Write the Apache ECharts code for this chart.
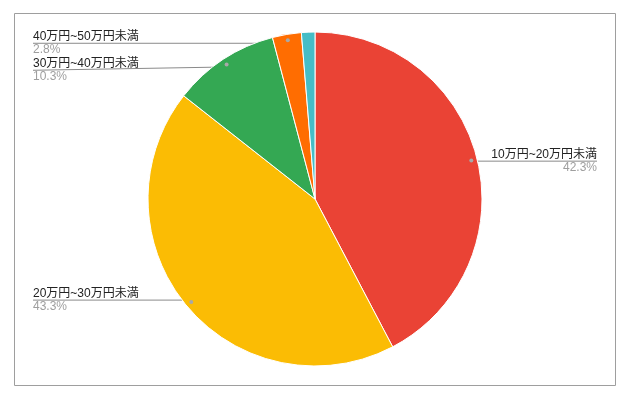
<!DOCTYPE html>
<html><head><meta charset="utf-8">
<script src="https://cdn.jsdelivr.net/npm/echarts/dist/echarts.min.js"></script>
<style>html,body{margin:0;padding:0;background:#fff}#c{width:634px;height:402px}</style>
</head><body><div id="c"></div>
<script>
var categories = ['10万円~20万円未満', '20万円~30万円未満', '30万円~40万円未満', '40万円~50万円未満', '50万円以上'];
var values = [42.3, 43.3, 10.3, 2.8, 1.3];
var showLabel = [true, true, true, true, false];
var colors = ['#EA4335', '#FBBC04', '#34A853', '#FF6D01', '#46BDC6'];

var FONT = "Arial, 'Liberation Sans', 'Noto Sans CJK JP', sans-serif";
var CENTER = [315, 199];
var R = 167;
var SHIFT = -2;
var clear = 'rgba(0,0,0,0)';

function baseData(extra) {
  return categories.map(function (c, i) {
    var d = { name: c, value: values[i] };
    if (extra) extra(d, i);
    return d;
  });
}

var chart = echarts.init(document.getElementById('c'));
chart.setOption({
  animation: false,
  graphic: [{
    type: 'rect', silent: true, z: -10,
    shape: { x: 14.5, y: 13.5, width: 601, height: 372 },
    style: { fill: null, stroke: '#9e9e9e', lineWidth: 1 }
  }],
  series: [
    {
      type: 'pie', silent: true, center: CENTER, radius: R,
      startAngle: 90, clockwise: true,
      label: { show: false }, labelLine: { show: false },
      itemStyle: { borderColor: '#fff', borderWidth: 1 },
      emphasis: { disabled: true },
      data: baseData(function (d, i) { d.itemStyle = { color: colors[i] }; })
    },
    {
      type: 'pie', silent: true, center: CENTER, radius: 158,
      startAngle: 90, clockwise: true,
      itemStyle: { color: clear, borderWidth: 0 },
      emphasis: { disabled: true },
      label: {
        show: true, position: 'outside', alignTo: 'edge', edgeDistance: 35,
        fontFamily: FONT,
        formatter: function (p) { return '{n|' + p.name + '}\n{v|' + p.value + '%}'; },
        rich: {
          n: { fontSize: 12, color: '#222222', lineHeight: 13, fontFamily: FONT },
          v: { fontSize: 12, color: '#9e9e9e', lineHeight: 13, fontFamily: FONT }
        }
      },
      labelLine: { show: true, length: 0, length2: 10, lineStyle: { color: '#8a8a8a', width: 1 } },
      labelLayout: function (p) {
        var pts = p.labelLinePoints;
        if (!pts || !pts.length) return {};
        var r = p.labelRect;
        var endX = (p.align === 'left' ? r.x : r.x + r.width) + SHIFT;
        var endY = r.y + r.height / 2;
        return { dx: SHIFT, labelLinePoints: [pts[0], [endX, endY]] };
      },
      data: baseData(function (d, i) {
        if (!showLabel[i]) { d.label = { show: false }; d.labelLine = { show: false }; }
      })
    },
    {
      type: 'pie', silent: true, center: CENTER, radius: [156, 160],
      startAngle: 90, clockwise: true,
      itemStyle: { color: clear, borderWidth: 0 },
      emphasis: { disabled: true },
      label: {
        show: true, position: 'inside', rotate: 0,
        formatter: '{d| }',
        rich: { d: { width: 4, height: 4, borderRadius: 2, backgroundColor: '#a8a8a8', fontSize: 1 } }
      },
      labelLine: { show: false },
      data: baseData(function (d, i) {
        if (!showLabel[i]) { d.label = { show: false }; }
      })
    }
  ]
});
</script>
</body></html>
